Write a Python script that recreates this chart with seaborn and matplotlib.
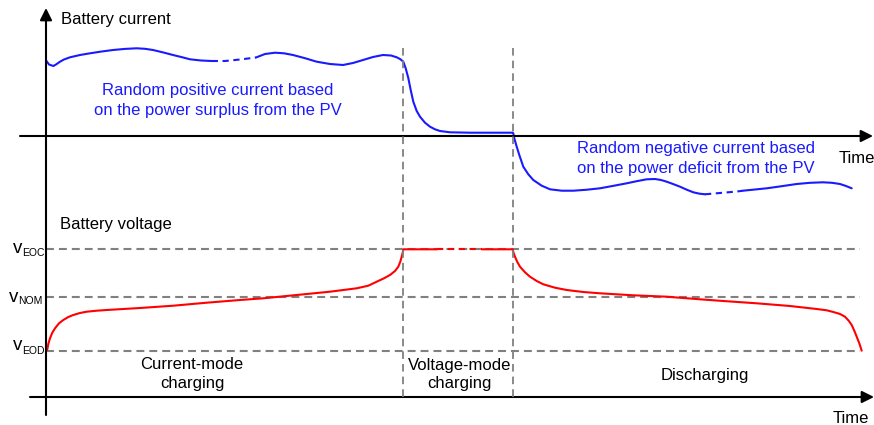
import matplotlib
matplotlib.use("Agg")
import matplotlib.pyplot as plt
import seaborn as sns
import pandas as pd

# ---------------- data ----------------
# time in arbitrary units (0 at the vertical axis), current / voltage in arbitrary units
cur_a_t = [0.5, 3, 7.3, 10, 14, 18, 24, 34, 44, 55, 67, 79, 90.7, 99, 107, 117, 127, 136, 144, 155, 165.7]
cur_a_i = [75, 71.5, 70, 71.5, 74.3, 76.5, 78.7, 81, 82.7, 84.4, 86, 87.1, 87.7, 87.2, 86, 83.6, 81, 78.8, 76.7, 75.5, 75]
cur_b_t = [165.7, 179, 194, 210]                      # dashed gap
cur_b_i = [75, 75, 76.5, 78.5]
cur_c_t = [210, 219, 229, 238, 247, 259, 270.7, 284, 297, 307, 317, 327, 337, 345,
           350.7, 354.5, 357.3, 359.7, 362.3, 364.7, 367.3, 370.7, 374, 379, 384, 389,
           394, 404, 424, 466.7, 467.3, 468.3, 470.7, 473.3, 477.3, 482.3, 487.3, 495.7,
           504, 515.7, 527.3, 540, 554, 567, 580.7, 590.7, 600.7, 609, 615, 620.7, 627,
           634, 641, 647.3, 653, 659]
cur_c_i = [78.5, 82, 83.3, 82.7, 81, 77.8, 74.3, 72, 71, 73, 76, 79, 81, 80.5,
           78.7, 76.7, 74.3, 67.7, 58, 46, 34.3, 25, 19.3, 13.3, 9.3, 6.7,
           5, 3.7, 3.3, 3.3, 2.7, -2.3, -10.7, -19, -30.7, -38.3, -44, -49.7,
           -53.3, -54.7, -54.7, -53.8, -52.3, -49.9, -47.3, -45.2, -43.3, -43, -44, -45.7, -48,
           -50.7, -53.8, -56.3, -57.6, -58.3]
cur_d_t = [659, 674, 691, 697]                        # dashed gap
cur_d_i = [-58.3, -57, -55.5, -54.7]
cur_e_t = [697, 708, 720.7, 735, 750.7, 764, 777, 786, 794, 800, 805.7]
cur_e_i = [-54.7, -53.6, -52.3, -50.3, -48, -46.8, -46.3, -46.8, -48, -50, -52.3]

volt_a_t = [0.5, 1.3, 2.3, 4, 6.3, 9, 13, 17.3, 22.3, 27.3, 34, 40.7, 50.7, 60.7, 94,
            127.3, 160.7, 194, 217.3, 250.7, 284, 310.7, 322.3, 330.7, 338, 344, 349,
            352.3, 354.3, 355.7, 356.7, 357.3, 391]
volt_a_v = [46.5, 47.7, 53, 58.7, 64.3, 68.7, 73.7, 77, 80, 82, 84, 85.3, 86.3, 87, 89,
            91.3, 94.3, 97, 98.7, 102, 105.3, 108.7, 111.3, 115.3, 118.7, 122, 126,
            130.3, 135.3, 140.3, 144.3, 147.7, 147.7]
volt_b_t = [391, 436]                                 # dashed gap
volt_b_v = [147.7, 147.7]
volt_c_t = [436, 466.7, 467.7, 469, 471.3, 474, 479, 484, 490.7, 497.3, 509, 520.7,
            537.3, 554, 587.3, 620.7, 654, 677.3, 710.7, 744, 770.7, 780.7, 787.3, 794,
            799, 802.7, 805.7, 808.3, 810.7, 813.3, 815.7]
volt_c_v = [147.7, 147.7, 143.7, 140.3, 135, 130.3, 124.7, 120.3, 116, 112.7, 109.3, 107,
            105, 103.7, 101.7, 100.3, 97.7, 96, 93.7, 91, 88, 86.7, 85, 83,
            80.3, 76.3, 72, 66.3, 60.3, 53.7, 46.3]

levels = [147.7, 99.7, 46.5]
level_names = ["EOC", "NOM", "EOD"]
phase_bounds = [357, 467]
level_end = 814

# ---------------- style ----------------
sns.set_theme(style="white")
plt.rcParams["font.family"] = ["Liberation Sans", "DejaVu Sans"]

W, H = 874, 425
fig = plt.figure(figsize=(W / 100, H / 100), dpi=100)
XL = (-46, 828)

ax_i = fig.add_axes([0, 225 / H, 1, 200 / H])
ax_v = fig.add_axes([0, 0, 1, 225 / H])
ov = fig.add_axes([0, 0, 1, 1])
for a in (ax_i, ax_v, ov):
    a.set_xlim(*XL)
    a.set_axis_off()
    a.patch.set_alpha(0)
ax_i.set_ylim(-64, 136)
ax_v.set_ylim(-28, 197)
ov.set_ylim(H, 0)

BLUE = "#1a1aff"
RED = "#ff0000"
GREY = "#808080"
LW = 1.5
dash_curve = (3.0, 2.2)

def seg(ax, t, y, color, dashed=False):
    df = pd.DataFrame({"t": t, "y": y})
    sns.lineplot(data=df, x="t", y="y", ax=ax, color=color, lw=LW, sort=False,
                 estimator=None, legend=False)
    ln = ax.lines[-1]
    ln.set_solid_joinstyle("round")
    ln.set_solid_capstyle("round")
    if dashed:
        ln.set_dashes(dash_curve)

# guide lines
for lv in levels:
    ax_v.plot([0, level_end], [lv, lv], color=GREY, lw=1.5, dashes=(3.8, 2.4), zorder=1)
for pb in phase_bounds:
    ov.plot([pb, pb], [48, 397], color=GREY, lw=1.3, dashes=(4.2, 2.8), zorder=1)

# curves
seg(ax_i, cur_a_t, cur_a_i, BLUE)
seg(ax_i, cur_b_t, cur_b_i, BLUE, dashed=True)
seg(ax_i, cur_c_t, cur_c_i, BLUE)
seg(ax_i, cur_d_t, cur_d_i, BLUE, dashed=True)
seg(ax_i, cur_e_t, cur_e_i, BLUE)
seg(ax_v, volt_a_t, volt_a_v, RED)
seg(ax_v, volt_b_t, volt_b_v, RED, dashed=True)
seg(ax_v, volt_c_t, volt_c_v, RED)

# axes with arrows
arr = dict(arrowstyle="-|>", lw=1.5, color="black", mutation_scale=18,
           shrinkA=0, shrinkB=0)
ax_i.annotate("", xy=(827, 0), xytext=(-26, 0), arrowprops=arr)
ax_v.annotate("", xy=(828, 0), xytext=(-16, 0), arrowprops=arr)
ov.annotate("", xy=(0, 8), xytext=(0, 415), arrowprops=arr)

# texts
def T(x, y, s, ha="left", color="black", size=12, va="baseline"):
    fig.text(x / W, 1 - y / H, s, ha=ha, va=va, color=color, fontsize=size)

T(61, 24, "Battery current")
T(217.5, 95, "Random positive current based", ha="center", color=BLUE)
T(217.5, 115, "on the power surplus from the PV", ha="center", color=BLUE)
T(696.3, 153.3, "Random negative current based", ha="center", color=BLUE)
T(696.3, 172.7, "on the power deficit from the PV", ha="center", color=BLUE)
T(838.3, 163.3, "Time")
T(60, 229.3, "Battery voltage")
T(192, 369, "Current-mode", ha="center")
T(192, 388, "charging", ha="center")
T(459.5, 370, "Voltage-mode", ha="center")
T(459.5, 388.3, "charging", ha="center")
T(705, 380, "Discharging", ha="center")
T(833, 423.3, "Time")

# v labels (v + subscript)
vlab = [(22, 253.3, 255.5), (18, 302.3, 304.5), (22, 349.5, 354.5)]
for (xs, yb, ys), nm in zip(vlab, level_names):
    T(xs, yb, "v", ha="right", size=13.5)
    T(xs, ys, nm, ha="left", size=7.5)

fig.savefig("out.png", dpi=100)
